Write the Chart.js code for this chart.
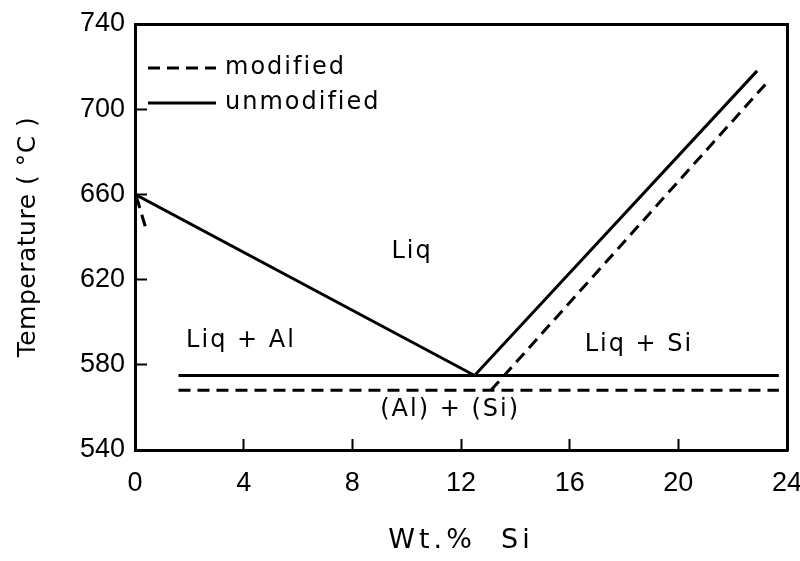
<!DOCTYPE html>
<html>
<head>
<meta charset="utf-8">
<script src="https://cdn.jsdelivr.net/npm/chart.js@4.4.1/dist/chart.umd.min.js"></script>
<style>
  html, body { margin: 0; padding: 0; background: #fff; }
  canvas { display: block; }
</style>
</head>
<body>
<canvas id="c" width="800" height="561"></canvas>
<script>
// Al–Si phase diagram: liquidus and eutectic lines, unmodified vs modified alloy
const liqUnmodX = [0, 12.5, 22.9];
const liqUnmodT = [660, 575, 718];
const eutUnmodX = [1.6, 23.7];
const eutUnmodT = [575, 575];

const liqModX = [13.1, 23.3];
const liqModT = [568, 713];
const eutModX = [1.6, 23.7];
const eutModT = [568, 568];
const solModX = [0.05, 0.4];
const solModT = [659, 644];

const xTicks = [0, 4, 8, 12, 16, 20, 24];
const yTicks = [540, 580, 620, 660, 700, 740];

const legendNames = ['modified', 'unmodified'];

const regionNames = ['Liq', 'Liq + Al', 'Liq + Si', '(Al) + (Si)'];
const regionX = [10.2, 3.9, 18.55, 11.6];
const regionT = [633, 591.5, 589.5, 559];

const FONT = 'DejaVu Sans';
const TICK_FONT = 'Liberation Sans';
const INK = '#000';
const DASH = [12, 7];
const LW = 3;

const pts = (xs, ys) => xs.map((x, i) => ({ x: x, y: ys[i] }));

function lineSet(label, xs, ys, dashed) {
  return {
    label: label,
    data: pts(xs, ys),
    showLine: true,
    borderColor: INK,
    borderWidth: LW,
    borderDash: dashed ? DASH : [],
    pointRadius: 0,
    fill: false,
    tension: 0
  };
}

// Wider letter spacing for the axis titles
const titleSpacing = {
  id: 'titleSpacing',
  beforeDraw(chart) {
    const spacing = { x: '4px', y: '0.5px' };
    Object.keys(spacing).forEach(id => {
      const s = chart.scales[id];
      if (!s || s._spacedTitle || typeof s.drawTitle !== 'function') return;
      const orig = s.drawTitle;
      s.drawTitle = function () {
        const ctx = this.ctx;
        const prev = ctx.letterSpacing;
        ctx.letterSpacing = spacing[id];
        orig.apply(this, arguments);
        ctx.letterSpacing = prev || '0px';
      };
      s._spacedTitle = true;
    });
  }
};

// Legend drawn inside the plot area, top-left
const insideLegend = {
  id: 'insideLegend',
  afterDatasetsDraw(chart) {
    const ctx = chart.ctx;
    const a = chart.chartArea;
    ctx.save();
    ctx.font = '24px "' + FONT + '"';
    ctx.letterSpacing = '2px';
    ctx.fillStyle = INK;
    ctx.textBaseline = 'middle';
    ctx.textAlign = 'left';
    legendNames.forEach((name, i) => {
      const ds = chart.data.datasets.find(d => d.label === name);
      const y = a.top + 44 + i * 35;
      const x0 = a.left + 13;
      ctx.beginPath();
      ctx.lineWidth = ds.borderWidth;
      ctx.strokeStyle = ds.borderColor;
      ctx.setLineDash(ds.borderDash || []);
      ctx.moveTo(x0, y);
      ctx.lineTo(x0 + 68, y);
      ctx.stroke();
      ctx.fillText(name, x0 + 77, y);
    });
    ctx.restore();
  }
};

// Phase-field names placed in data coordinates
const regionText = {
  id: 'regionText',
  afterDatasetsDraw(chart) {
    const ctx = chart.ctx;
    const xs = chart.scales.x, ys = chart.scales.y;
    ctx.save();
    ctx.font = '24px "' + FONT + '"';
    ctx.letterSpacing = '2px';
    ctx.fillStyle = INK;
    ctx.textBaseline = 'middle';
    ctx.textAlign = 'center';
    regionNames.forEach((t, i) => {
      ctx.fillText(t, xs.getPixelForValue(regionX[i]), ys.getPixelForValue(regionT[i]));
    });
    ctx.restore();
  }
};

const tickFont = { family: TICK_FONT, size: 27 };

new Chart(document.getElementById('c'), {
  type: 'scatter',
  data: {
    datasets: [
      lineSet('unmodified', liqUnmodX, liqUnmodT, false),
      lineSet('unmodified eutectic', eutUnmodX, eutUnmodT, false),
      lineSet('modified', liqModX, liqModT, true),
      lineSet('modified eutectic', eutModX, eutModT, true),
      lineSet('modified solidus', solModX, solModT, true)
    ]
  },
  options: {
    responsive: false,
    animation: false,
    devicePixelRatio: 1,
    layout: { padding: { top: 24, right: 13, left: 0, bottom: 0 } },
    plugins: { legend: { display: false }, tooltip: { enabled: false } },
    scales: {
      x: {
        type: 'linear',
        position: 'bottom',
        min: 0, max: 24,
        afterBuildTicks: s => { s.ticks = xTicks.map(v => ({ value: v })); },
        afterFit: s => { s.height = 111; s.paddingLeft = 0; s.paddingRight = 0; },
        grid: { drawOnChartArea: false, tickLength: -11, tickWidth: 2, color: INK, tickColor: INK },
        border: { color: INK, width: LW },
        ticks: { padding: 28, color: INK, font: tickFont, maxRotation: 0, autoSkip: false },
        title: { display: true, text: 'Wt.%  Si', color: INK, font: { family: FONT, size: 27 }, padding: { top: 0, bottom: 4 } }
      },
      y: {
        type: 'linear',
        position: 'left',
        min: 540, max: 740,
        afterBuildTicks: s => { s.ticks = yTicks.map(v => ({ value: v })); },
        afterFit: s => { s.width = 135; s.paddingTop = 0; s.paddingBottom = 0; },
        grid: { drawOnChartArea: false, tickLength: -12, tickWidth: 2, color: INK, tickColor: INK },
        border: { color: INK, width: LW },
        ticks: { padding: 22, color: INK, font: tickFont, autoSkip: false },
        title: { display: true, text: 'Temperature ( °C )', color: INK, font: { family: FONT, size: 25 }, padding: { top: 13, bottom: 0 } }
      },
      xTop: {
        type: 'linear',
        position: 'top',
        min: 0, max: 24,
        afterFit: s => { s.height = 0; s.paddingLeft = 0; s.paddingRight = 0; },
        grid: { drawOnChartArea: false, drawTicks: false },
        border: { color: INK, width: LW },
        ticks: { display: false }
      },
      yRight: {
        type: 'linear',
        position: 'right',
        min: 540, max: 740,
        afterFit: s => { s.width = 0; s.paddingTop = 0; s.paddingBottom = 0; },
        grid: { drawOnChartArea: false, drawTicks: false },
        border: { color: INK, width: LW },
        ticks: { display: false }
      }
    }
  },
  plugins: [titleSpacing, insideLegend, regionText]
});
</script>
</body>
</html>
